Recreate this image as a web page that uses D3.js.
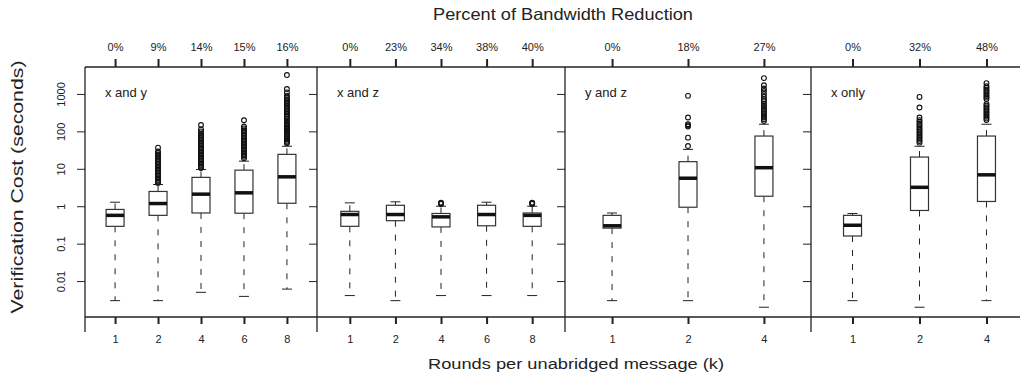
<!DOCTYPE html>
<html>
<head>
<meta charset="utf-8">
<script src="https://cdn.jsdelivr.net/npm/d3@7"></script>
<style>
  body { margin: 0; background: #fff; }
  svg { display: block; font-family: "Liberation Sans", Arial, sans-serif; }
</style>
</head>
<body>
<div id="chart"></div>
<script>
// panels and categories
var panelNames = ["x and y", "x and z", "y and z", "x only"];
var rounds = [["1","2","4","6","8"], ["1","2","4","6","8"], ["1","2","4"], ["1","2","4"]];
var reduction = [["0%","9%","14%","15%","16%"], ["0%","23%","34%","38%","40%"], ["0%","18%","27%"], ["0%","32%","48%"]];

// box statistics, one array per panel
var whiskerLow = [[0.003, 0.003, 0.005, 0.0039, 0.0061], [0.0041, 0.003, 0.0041, 0.0041, 0.0041], [0.003, 0.003, 0.002], [0.003, 0.002, 0.003]];
var q1 = [[0.29, 0.57, 0.66, 0.65, 1.2], [0.29, 0.41, 0.28, 0.30, 0.29], [0.26, 0.94, 1.85], [0.16, 0.77, 1.34]];
var median = [[0.57, 1.18, 2.1, 2.28, 6.1], [0.6, 0.6, 0.52, 0.6, 0.57], [0.30, 5.6, 10.7], [0.31, 3.2, 6.9]];
var q3 = [[0.82, 2.48, 5.9, 9.2, 24.3], [0.73, 1.06, 0.64, 1.06, 0.66], [0.57, 15.5, 75], [0.57, 20.6, 75]];
var whiskerHigh = [[1.28, 3.8, 9.6, 16, 40], [1.23, 1.31, 1.0, 1.28, 1.0], [0.66, 33, 155], [0.64, 40, 155]];

var outliers = [
  [
    [],
    [4.2, 4.6, 5, 5.5, 6, 6.6, 7.2, 7.9, 8.7, 9.5, 10.4, 11.4, 12.5, 13.7, 15, 16.5, 18, 20, 22, 24, 26.5, 29, 36.7],
    [10.5, 11.5, 12.6, 13.8, 15.1, 16.6, 18.2, 20, 22, 24, 26.3, 29, 32, 35, 38, 42, 46, 50, 55, 60, 66, 72, 80, 88, 100, 115, 148],
    [19, 21, 23, 25, 27.5, 30, 33, 36, 39.5, 43, 47, 52, 57, 62, 68, 75, 82, 90, 99, 108, 120, 135, 198],
    [48, 52, 56, 61, 66, 72, 78, 85, 92, 100, 108, 117, 127, 138, 150, 170, 190, 215, 240, 265, 290, 320, 350, 390, 430, 480, 530, 590, 650, 720, 800, 900, 1100, 1350, 3200]
  ],
  [
    [], [], [1.15, 1.2, 1.25], [], [1.15, 1.2, 1.25]
  ],
  [
    [],
    [40.5, 68, 135, 145, 155, 235, 890],
    [190, 210, 235, 260, 290, 320, 360, 400, 450, 500, 560, 640, 720, 850, 1000, 1200, 1400, 1700, 2650]
  ],
  [
    [],
    [50, 55, 60, 66, 72, 80, 88, 97, 107, 118, 130, 145, 160, 180, 200, 235, 435, 830],
    [200, 220, 245, 270, 300, 330, 365, 400, 440, 490, 540, 730, 800, 880, 970, 1070, 1180, 1300, 1450, 1600, 1940]
  ]
];

var yTicks = [0.01, 0.1, 1, 10, 100, 1000];
var yTickLabels = ["0.01", "0.1", "1", "10", "100", "1000"];

var width = 1020, height = 379;
var plotTop = 67, plotBottom = 317;
var edges = [85, 317, 565, 811, 1028];
var pads = [0.7, 0.72, 0.62, 0.62];
var ink = "#222";

var svg = d3.select("#chart").append("svg")
  .attr("width", width)
  .attr("height", height);

var y = d3.scaleLog()
  .domain([Math.pow(10, -2.96), Math.pow(10, 3.72)])
  .range([plotBottom, plotTop]);

// left axis
var leftAxis = svg.append("g")
  .attr("transform", "translate(" + edges[0] + ",0)")
  .call(d3.axisLeft(y).tickValues(yTicks).tickFormat(function(d, i) { return yTickLabels[i]; }).tickSize(8).tickSizeOuter(0));
leftAxis.select(".domain").remove();
leftAxis.selectAll("line").attr("stroke", ink);
leftAxis.selectAll("text")
  .attr("transform", "rotate(-90)")
  .attr("x", 0).attr("y", -20).attr("dy", 0)
  .attr("text-anchor", "middle")
  .attr("font-size", 11).attr("fill", ink);

panelNames.forEach(function(name, p) {
  var x = d3.scalePoint()
    .domain(rounds[p])
    .range([edges[p], edges[p + 1]])
    .padding(pads[p]);

  var g = svg.append("g");

  // top axis with bandwidth reduction labels
  var ta = g.append("g")
    .attr("transform", "translate(0," + plotTop + ")")
    .call(d3.axisTop(x).tickFormat(function(d, i) { return reduction[p][i]; }).tickSize(8).tickPadding(8).tickSizeOuter(0));
  ta.select(".domain").attr("stroke", ink).attr("stroke-width", 1.3)
    .attr("d", "M" + edges[p] + ",0H" + edges[p + 1]);
  ta.selectAll("line").attr("stroke", ink).attr("stroke-width", 2);
  ta.selectAll("text").attr("font-size", 11).attr("fill", ink);

  // bottom axis with rounds
  var ba = g.append("g")
    .attr("transform", "translate(0," + plotBottom + ")")
    .call(d3.axisBottom(x).tickSize(7).tickPadding(11).tickSizeOuter(0));
  ba.select(".domain").attr("stroke", ink).attr("stroke-width", 1.3)
    .attr("d", "M" + edges[p] + ",0H" + edges[p + 1]);
  ba.selectAll("line").attr("stroke", ink).attr("stroke-width", 2);
  ba.selectAll("text").attr("font-size", 11).attr("fill", ink);

  // right edge ticks pointing into the panel
  var ra = g.append("g")
    .attr("transform", "translate(" + edges[p + 1] + ",0)")
    .call(d3.axisLeft(y).tickValues(yTicks).tickFormat("").tickSize(8).tickSizeOuter(0));
  ra.select(".domain").remove();
  ra.selectAll("line").attr("stroke", ink);

  // left border of panel
  g.append("line")
    .attr("x1", edges[p]).attr("x2", edges[p])
    .attr("y1", plotTop).attr("y2", plotBottom + 15)
    .attr("stroke", ink).attr("stroke-width", 1.3);

  g.append("text")
    .attr("x", edges[p] + 20)
    .attr("y", 97)
    .attr("font-size", 13)
    .attr("fill", ink)
    .text(name);

  var bw = 18, cap = 5;
  rounds[p].forEach(function(r, i) {
    var cx = x(r);
    var b = g.append("g");

    // whiskers
    b.append("line")
      .attr("x1", cx).attr("x2", cx)
      .attr("y1", y(q1[p][i])).attr("y2", y(whiskerLow[p][i]))
      .attr("stroke", ink).attr("stroke-dasharray", "6,8");
    b.append("line")
      .attr("x1", cx).attr("x2", cx)
      .attr("y1", y(q3[p][i])).attr("y2", y(whiskerHigh[p][i]))
      .attr("stroke", ink).attr("stroke-dasharray", "6,8");
    b.append("line")
      .attr("x1", cx - cap).attr("x2", cx + cap)
      .attr("y1", y(whiskerLow[p][i])).attr("y2", y(whiskerLow[p][i]))
      .attr("stroke", ink);
    b.append("line")
      .attr("x1", cx - cap).attr("x2", cx + cap)
      .attr("y1", y(whiskerHigh[p][i])).attr("y2", y(whiskerHigh[p][i]))
      .attr("stroke", ink);

    // box
    b.append("rect")
      .attr("x", cx - bw / 2)
      .attr("y", y(q3[p][i]))
      .attr("width", bw)
      .attr("height", y(q1[p][i]) - y(q3[p][i]))
      .attr("fill", "#fff")
      .attr("stroke", "#333")
      .attr("stroke-width", 1.2);

    // median
    b.append("line")
      .attr("x1", cx - bw / 2).attr("x2", cx + bw / 2)
      .attr("y1", y(median[p][i])).attr("y2", y(median[p][i]))
      .attr("stroke", "#111").attr("stroke-width", 3.5);

    // outliers
    b.selectAll("circle")
      .data(outliers[p][i])
      .enter()
      .append("circle")
      .attr("cx", cx)
      .attr("cy", function(d) { return y(d); })
      .attr("r", 2.4)
      .attr("fill", "none")
      .attr("stroke", "#111")
      .attr("stroke-width", 1.1);
  });
});

// titles
svg.append("text")
  .attr("x", 563).attr("y", 20)
  .attr("text-anchor", "middle")
  .attr("font-size", 16.5)
  .attr("textLength", 260).attr("lengthAdjust", "spacingAndGlyphs")
  .attr("fill", ink)
  .text("Percent of Bandwidth Reduction");

svg.append("text")
  .attr("x", 576).attr("y", 369)
  .attr("text-anchor", "middle")
  .attr("font-size", 15.5)
  .attr("textLength", 296).attr("lengthAdjust", "spacingAndGlyphs")
  .attr("fill", ink)
  .text("Rounds per unabridged message (k)");

svg.append("text")
  .attr("transform", "translate(23,187) rotate(-90)")
  .attr("text-anchor", "middle")
  .attr("font-size", 16)
  .attr("textLength", 253).attr("lengthAdjust", "spacingAndGlyphs")
  .attr("fill", ink)
  .text("Verification Cost (seconds)");
</script>
</body>
</html>
